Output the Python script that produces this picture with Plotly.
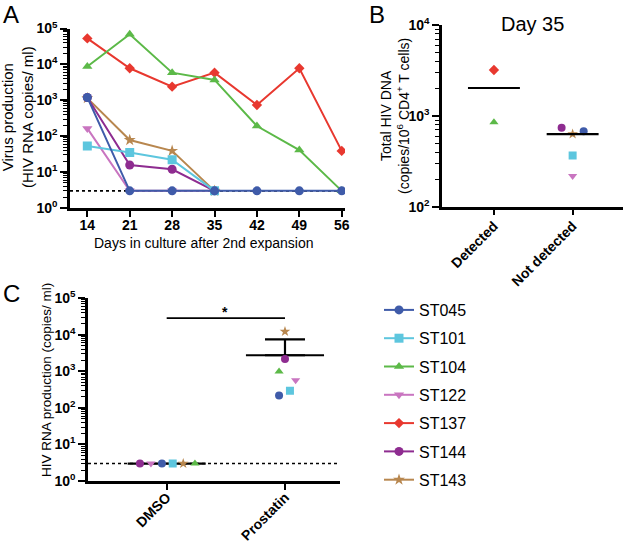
import numpy as np
import plotly.graph_objects as go

W, H = 625, 544
FONT = "Liberation Sans, Arial, sans-serif"

# ---------------- data ----------------
patients = ["ST045", "ST101", "ST104", "ST122", "ST137", "ST144", "ST143"]
colors = ["#3F5BA9", "#5DC6DE", "#5CB948", "#C975C0", "#E8382F", "#8E2C90", "#B8874F"]
symbols = ["circle", "square", "triangle-up", "triangle-down", "diamond", "circle", "star"]

# Panel A: virus production (HIV RNA copies/ml) by day
days = [14, 21, 28, 35, 42, 49, 56]
st045_rna = [1200, 3, 3, 3, 3, 3, 3]
st101_rna = [53, 35, 22, 3, None, None, None]
st104_rna = [8700, 69000, 5900, 3700, 192, 41, 3]
st122_rna = [165, 3, 3, 3, None, None, None]
st137_rna = [53000, 7800, 2400, 5900, 740, 7800, 39]
st144_rna = [1200, 15.8, 12, 3, None, None, None]
st143_rna = [1150, 78, 39, 3, None, None, None]
detection_limit = 3

# Panel B: total HIV DNA at day 35
b_groups = ["Detected", "Not detected"]
b_patients = ["ST137", "ST104", "ST144", "ST143", "ST045", "ST101", "ST122"]
b_group_idx = [0, 0, 1, 1, 1, 1, 1]
b_dna = [3200, 850, 740, 630, 675, 365, 218]
b_jitter = [0, 0, -0.14, 0, 0.14, 0, 0]

# Panel C: HIV RNA production, DMSO vs Prostatin
c_groups = ["DMSO", "Prostatin"]
c_patients = ["ST144", "ST122", "ST045", "ST101", "ST143", "ST104"]
dmso_rna = [3, 3, 3, 3, 3, 3]
dmso_jitter = [-0.226, -0.133, -0.04, 0.051, 0.14, 0.239]
prostatin_rna = [2190, 575, 218, 297, 12300, 990]
prostatin_jitter = [0, 0.09, -0.05, 0.042, 0, -0.05]
signif_level = 28600

a_series = [st045_rna, st101_rna, st104_rna, st122_rna, st137_rna, st144_rna, st143_rna]

# ---------------- helpers ----------------
def px_x(p):
    return p / W

def px_y(p):
    return 1 - p / H

def bold(s):
    return "<b>" + s + "</b>"

pow_text = [bold("10<sup>%d</sup>" % k) for k in range(0, 6)]
minor_vals = [m * 10 ** k for k in range(0, 5) for m in range(2, 10)]

fig = go.Figure()

# ---------------- Panel A ----------------
A_XR = [11.14, 56.54]
fig.add_trace(go.Scatter(x=A_XR, y=[detection_limit] * 2, mode="lines",
                         line=dict(color="black", width=1.6, dash="dot"),
                         showlegend=False, hoverinfo="skip", xaxis="x", yaxis="y"))
order = [4, 2, 6, 5, 3, 1, 0]
for i in order:
    fig.add_trace(go.Scatter(
        x=days, y=a_series[i], mode="lines+markers", name=patients[i],
        line=dict(color=colors[i], width=2),
        marker=dict(symbol=symbols[i], size=9 if symbols[i] != "diamond" else 8,
                    color=colors[i], line=dict(width=0)),
        legendgroup=patients[i], legendrank=i + 1, connectgaps=False,
        xaxis="x", yaxis="y"))

# ---------------- Panel B ----------------
for j, p in enumerate(b_patients):
    i = patients.index(p)
    fig.add_trace(go.Scatter(
        x=[b_group_idx[j] + b_jitter[j]], y=[b_dna[j]], mode="markers",
        marker=dict(symbol=symbols[i], size=8, color=colors[i], line=dict(width=0)),
        showlegend=False, xaxis="x2", yaxis="y2"))
for g in range(len(b_groups)):
    vals = [v for v, gi in zip(b_dna, b_group_idx) if gi == g]
    med = float(np.median(vals))
    fig.add_trace(go.Scatter(x=[g - 0.33, g + 0.33], y=[med, med], mode="lines",
                             line=dict(color="black", width=2.2),
                             showlegend=False, hoverinfo="skip", xaxis="x2", yaxis="y2"))

# ---------------- Panel C ----------------
C_XR = [-0.665, 1.465]
fig.add_trace(go.Scatter(x=C_XR, y=[detection_limit] * 2, mode="lines",
                         line=dict(color="black", width=1.6, dash="dot"),
                         showlegend=False, hoverinfo="skip", xaxis="x3", yaxis="y3"))
for g, (vals, jit) in enumerate([(dmso_rna, dmso_jitter), (prostatin_rna, prostatin_jitter)]):
    mean = float(np.mean(vals))
    sd = float(np.std(vals, ddof=1))
    fig.add_trace(go.Scatter(x=[g - 0.33, g + 0.33], y=[mean, mean], mode="lines",
                             line=dict(color="black", width=2.2),
                             showlegend=False, hoverinfo="skip", xaxis="x3", yaxis="y3"))
    if sd > 0:
        fig.add_trace(go.Scatter(x=[g], y=[mean], mode="markers",
                                 marker=dict(size=1, color="rgba(0,0,0,0)"),
                                 error_y=dict(type="data", symmetric=False, array=[sd],
                                              arrayminus=[0], color="black",
                                              thickness=2.2, width=20),
                                 showlegend=False, hoverinfo="skip",
                                 xaxis="x3", yaxis="y3"))
    for j, p in enumerate(c_patients):
        i = patients.index(p)
        fig.add_trace(go.Scatter(
            x=[g + jit[j]], y=[vals[j]], mode="markers",
            marker=dict(symbol=symbols[i], size=8, color=colors[i], line=dict(width=0)),
            showlegend=False, xaxis="x3", yaxis="y3"))
fig.add_trace(go.Scatter(x=[0, 1], y=[signif_level] * 2, mode="lines",
                         line=dict(color="black", width=1.6),
                         showlegend=False, hoverinfo="skip", xaxis="x3", yaxis="y3"))

# ---------------- axes ----------------
common = dict(showgrid=False, zeroline=False, showline=True, linecolor="black",
              linewidth=2.5, ticks="outside", tickcolor="black", tickwidth=2,
              automargin=False,
              tickfont=dict(size=14, color="black", family=FONT))
ylog = dict(type="log", tickvals=[10 ** k for k in range(6)], ticktext=pow_text,
            ticklen=7,
            minor=dict(tickvals=minor_vals, ticks="outside", ticklen=4,
                       tickwidth=1.3, tickcolor="black"))

fig.update_layout(
    width=W, height=H, margin=dict(l=0, r=0, t=0, b=0, autoexpand=False),
    paper_bgcolor="white", plot_bgcolor="white",
    font=dict(family=FONT, color="black"),
    xaxis=dict(domain=[px_x(70), px_x(345)], range=A_XR, tickvals=days,
               ticktext=[bold(str(d)) for d in days], ticklen=6, ticklabelstandoff=-4,
               anchor="y", **common),
    yaxis=dict(domain=[px_y(208), px_y(28.5)], range=[0, 5], anchor="x", **ylog, **common),
    xaxis2=dict(domain=[px_x(442), px_x(623)], range=[-0.66, 1.64], tickvals=[0, 1],
                ticktext=[bold(s) for s in b_groups], tickangle=-45, ticklen=6,
                ticklabelstandoff=-3, anchor="y2", **common),
    yaxis2=dict(domain=[px_y(206.7), px_y(25)], range=[2, 4], anchor="x2",
                type="log", tickvals=[100, 1000, 10000],
                ticktext=[pow_text[2], pow_text[3], pow_text[4]], ticklen=7,
                minor=dict(tickvals=[m * 10 ** k for k in range(2, 4) for m in range(2, 10)],
                           ticks="outside", ticklen=4, tickwidth=1.3, tickcolor="black"),
                **common),
    xaxis3=dict(domain=[px_x(88), px_x(340)], range=C_XR, tickvals=[0, 1],
                ticktext=[bold(s) for s in c_groups], tickangle=-45, ticklen=6,
                ticklabelstandoff=-6, anchor="y3", **common),
    yaxis3=dict(domain=[px_y(481), px_y(298.3)], range=[0, 5], anchor="x3", **ylog, **common),
    legend=dict(x=px_x(379), y=px_y(293), xanchor="left", yanchor="top",
                font=dict(size=16, family=FONT, color="black"),
                traceorder="grouped", tracegroupgap=4.5, bgcolor="rgba(0,0,0,0)"),
    showlegend=True,
)

def ann(text, x, y, size, angle=0, **kw):
    fig.add_annotation(text=text, x=px_x(x), y=px_y(y), xref="paper", yref="paper",
                       showarrow=False, textangle=angle, xanchor="center", yanchor="middle",
                       font=dict(size=size, family=FONT, color="black"), **kw)

ann("A", 11, 14, 24)
ann("B", 377, 14, 24)
ann("C", 11, 293, 24)
ann("Day 35", 532, 24, 20)
ann("Virus production<br>(HIV RNA copies/ ml)", 17, 117, 15, angle=-90)
ann("Days in culture after 2nd expansion", 203, 243, 14)
ann("Total HIV DNA<br>(copies/10<sup>6</sup> CD4<sup>+</sup> T cells)", 395, 116, 14, angle=-90)
ann("HIV RNA production (copies/ ml)", 46, 380, 13.5, angle=-90)
ann("<b>*</b>", 225, 312, 14)

fig.write_html("out.html", config={"displayModeBar": False},
               post_script="document.body.style.margin='0px';")
